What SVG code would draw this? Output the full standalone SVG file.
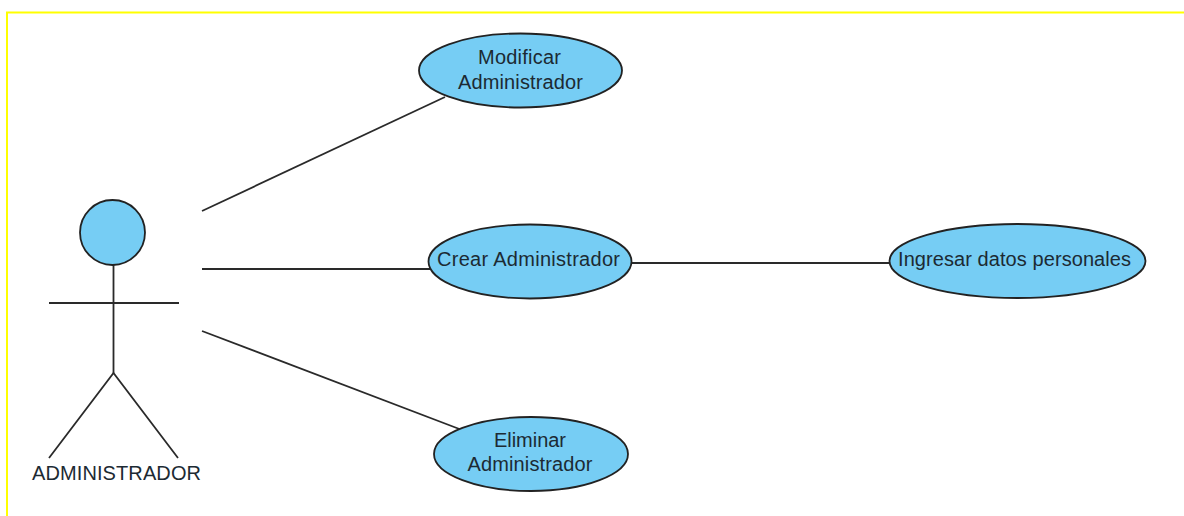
<svg xmlns="http://www.w3.org/2000/svg" width="1184" height="516" viewBox="0 0 1184 516">
<style>
.uc{fill:#76cdf4;stroke:#222;stroke-width:1.8}
.ln{fill:none;stroke:#2a2a2a;stroke-width:1.8}
text{font-family:"Liberation Sans",Arial,sans-serif;font-size:20px;fill:#1c2a33;text-anchor:middle}
</style>
<rect width="1184" height="516" fill="#fff"/>
<path d="M1184 12.500H7V516" fill="none" stroke="#ffff00" stroke-width="2"/>
<g id="connectors" class="ln">
<line x1="202" y1="211" x2="445" y2="97"/>
<line x1="202" y1="269" x2="430" y2="269"/>
<line x1="202" y1="331" x2="462" y2="430"/>
<line x1="632" y1="263" x2="890" y2="263"/>
</g>
<g id="actor">
<line class="ln" x1="113.500" y1="265" x2="113.500" y2="373"/>
<line class="ln" x1="49" y1="303" x2="179" y2="303"/>
<path class="ln" d="M49 458L113.500 373L178 458"/>
<circle class="uc" cx="112.500" cy="232.500" r="32.500"/>
<text x="116.500" y="479.500" textLength="169">ADMINISTRADOR</text>
</g>
<g id="modificar">
<ellipse class="uc" cx="520.500" cy="70.500" rx="101.500" ry="37"/>
<text x="519.500" y="63.500" textLength="83">Modificar</text>
<text x="520.500" y="88.500" textLength="125">Administrador</text>
</g>
<g id="crear">
<ellipse class="uc" cx="530" cy="261.500" rx="101.500" ry="37"/>
<text x="528.500" y="266" textLength="183">Crear Administrador</text>
</g>
<g id="eliminar">
<ellipse class="uc" cx="531" cy="454" rx="97" ry="37"/>
<text x="530" y="447" textLength="72">Eliminar</text>
<text x="530" y="471" textLength="125">Administrador</text>
</g>
<g id="ingresar">
<ellipse class="uc" cx="1017.500" cy="261" rx="128" ry="37"/>
<text x="1014.500" y="266" textLength="233">Ingresar datos personales</text>
</g>
</svg>
